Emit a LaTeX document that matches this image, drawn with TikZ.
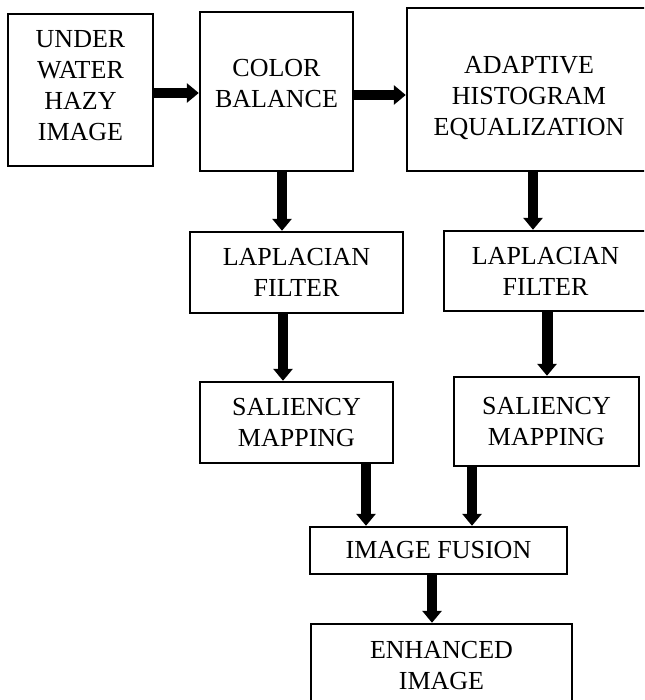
\documentclass[tikz,border=0pt]{standalone}
\usepackage{fontspec}
\setmainfont{Liberation Serif}
\usetikzlibrary{arrows.meta}

\begin{document}
\begin{tikzpicture}[x=1pt, y=-1pt,
    box/.style={draw, line width=2.4pt, align=center, inner sep=0pt,
      font=\fontsize{26}{31}\selectfont},
    boxtext/.style={align=center, inner sep=0pt,
      font=\fontsize{26}{31}\selectfont},
    flow/.style={line width=10pt, -{Triangle[width=19pt,length=12pt]}}]
  \useasboundingbox (0,0) rectangle (644,700);
  \clip (0,0) rectangle (644,700);

  \node[box, minimum width=145pt, minimum height=152pt,
    label={[boxtext, yshift=4pt]center:UNDER\\WATER\\HAZY\\IMAGE}] (in) at (80.5,90) {};
  \node[box, minimum width=153pt, minimum height=159pt,
    label={[boxtext, yshift=8pt]center:COLOR\\BALANCE}] (cb) at (276.5,91.5) {};
  \node[box, minimum width=244pt, minimum height=163pt,
    label={[boxtext, yshift=-9pt]center:ADAPTIVE\\HISTOGRAM\\EQUALIZATION}] (ahe) at (529,89.5) {};
  \node[box, minimum width=213pt, minimum height=81pt] (lapa) at (296.5,272.5)
    {LAPLACIAN\\FILTER};
  \node[box, minimum width=203pt, minimum height=80pt] (lapb) at (545.5,271)
    {LAPLACIAN\\FILTER};
  \node[box, minimum width=193pt, minimum height=81pt] (sala) at (296.5,422.5)
    {SALIENCY\\MAPPING};
  \node[box, minimum width=185pt, minimum height=89pt] (salb) at (546.5,421.5)
    {SALIENCY\\MAPPING};
  \node[box, minimum width=257pt, minimum height=47pt] (fus) at (438.5,550.5)
    {IMAGE FUSION};
  \node[box, minimum width=261pt, minimum height=83pt] (out) at (441.5,665.5)
    {ENHANCED\\IMAGE};

  \path[flow] ([yshift=-3pt]in.east) edge ([yshift=-1.5pt]cb.west);
  \path[flow] ([yshift=-3.5pt]cb.east) edge ([yshift=-5.5pt]ahe.west);
  \path[flow] ([xshift=5.5pt]cb.south) edge ([xshift=-14.5pt]lapa.north);
  \path[flow] ([xshift=4pt]ahe.south) edge ([xshift=-12.5pt]lapb.north);
  \path[flow] ([xshift=-13.5pt]lapa.south) edge ([xshift=-13.5pt]sala.north);
  \path[flow, line width=11pt] ([xshift=1.5pt]lapb.south) edge ([xshift=0.5pt]salb.north);
  \path[flow] ([xshift=69.5pt]sala.south) edge ([xshift=-72.5pt]fus.north);
  \path[flow] ([xshift=-74.5pt]salb.south) edge ([xshift=33.5pt]fus.north);
  \path[flow] ([xshift=-6.5pt]fus.south) edge ([xshift=-9.5pt]out.north);
\end{tikzpicture}
\end{document}
